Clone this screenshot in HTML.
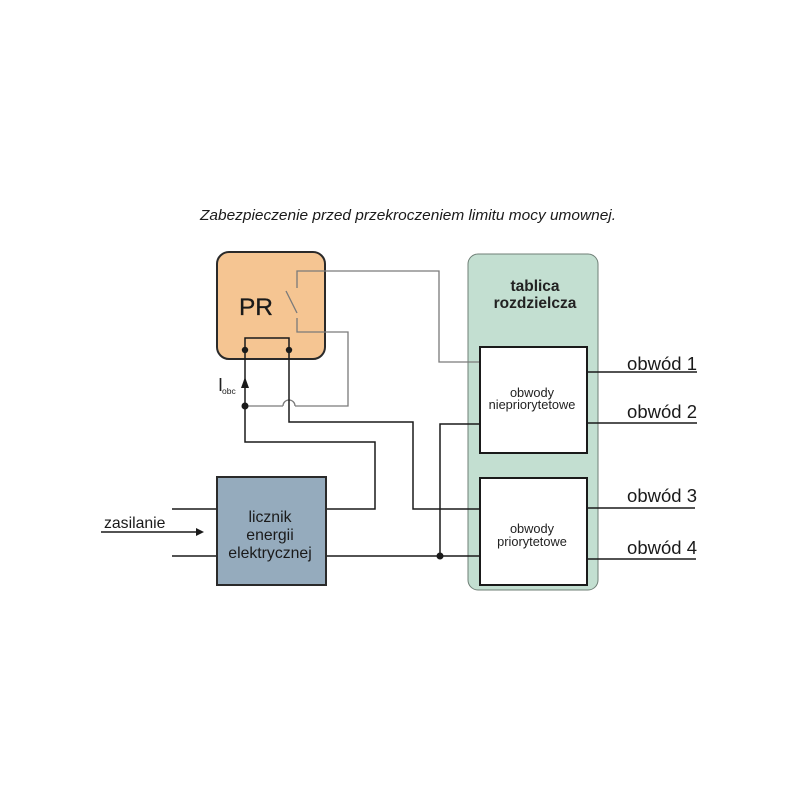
<!DOCTYPE html>
<html><head><meta charset="utf-8"><style>
html,body{margin:0;padding:0;background:#fff;}
svg{display:block;}
text{font-family:"Liberation Sans",Arial,sans-serif;}
</style></head><body>
<svg width="800" height="800" viewBox="0 0 800 800" xmlns="http://www.w3.org/2000/svg">
<rect width="800" height="800" fill="#fff"/>
<text x="408" y="220" font-size="14.5" font-style="italic" text-anchor="middle" fill="#1a1a1a" textLength="416" lengthAdjust="spacingAndGlyphs">Zabezpieczenie przed przekroczeniem limitu mocy umownej.</text>

<!-- tablica -->
<rect x="468" y="254" width="130" height="336" rx="10" ry="10" fill="#c3dfd1" stroke="#6f7f76" stroke-width="1"/>
<text x="535" y="291" font-size="15.5" font-weight="bold" text-anchor="middle" fill="#222">tablica</text>
<text x="535" y="308" font-size="15.5" font-weight="bold" text-anchor="middle" fill="#222">rozdzielcza</text>

<!-- PR box -->
<rect x="217" y="252" width="108" height="107" rx="12" ry="12" fill="#f5c592" stroke="#2a2a2a" stroke-width="2"/>
<text x="256" y="315" font-size="24.5" text-anchor="middle" fill="#1a1a1a" stroke="#1a1a1a" stroke-width="0.3">PR</text>

<!-- gray signal lines -->
<g fill="none" stroke="#7a7a7a" stroke-width="1.3">
<polyline points="297,288 297,271 439,271 439,362 480,362"/>
<line x1="286" y1="291" x2="297" y2="313"/>
<polyline points="297,318 297,332 348,332 348,406 295,406"/>
<path d="M283,406 A6,6 0 0 1 295,406"/>
<line x1="245" y1="406" x2="283" y2="406"/>
</g>

<!-- black lines -->
<g fill="none" stroke="#1a1a1a" stroke-width="1.5">
<polyline points="245,350 245,338 289,338 289,350"/>
<polyline points="245,350 245,442 375,442 375,509 326,509"/>
<polyline points="289,350 289,422 413,422 413,509 480,509"/>
<line x1="326" y1="556" x2="480" y2="556"/>
<polyline points="440,556 440,424 480,424"/>
<line x1="172" y1="509" x2="217" y2="509"/>
<line x1="172" y1="556" x2="217" y2="556"/>
<line x1="101" y1="532" x2="198" y2="532"/>
<line x1="587" y1="372" x2="697" y2="372"/>
<line x1="587" y1="423" x2="697" y2="423"/>
<line x1="587" y1="508" x2="695" y2="508"/>
<line x1="587" y1="559" x2="696" y2="559"/>
</g>
<polygon points="204,532 196,528 196,536" fill="#1a1a1a"/>
<polygon points="245,377 241,388 249,388" fill="#1a1a1a"/>

<g fill="#1a1a1a">
<circle cx="245" cy="350" r="3.2"/>
<circle cx="289" cy="350" r="3.2"/>
<circle cx="245" cy="406" r="3.5"/>
<circle cx="440" cy="556" r="3.5"/>
</g>

<text x="218" y="391" font-size="18" fill="#222">I</text>
<text x="222" y="394" font-size="8.5" fill="#222">obc</text>

<!-- meter -->
<rect x="217" y="477" width="109" height="108" fill="#95abbd" stroke="#2a2a2a" stroke-width="2"/>
<text x="270" y="522" font-size="15.8" text-anchor="middle" fill="#1a1a1a">licznik</text>
<text x="270" y="540" font-size="15.8" text-anchor="middle" fill="#1a1a1a">energii</text>
<text x="270" y="558" font-size="15.8" text-anchor="middle" fill="#1a1a1a">elektrycznej</text>
<text x="104" y="528" font-size="15.8" fill="#1a1a1a">zasilanie</text>

<!-- circuit boxes -->
<rect x="480" y="347" width="107" height="106" fill="#fff" stroke="#1a1a1a" stroke-width="2"/>
<text x="532" y="397" font-size="12.8" text-anchor="middle" fill="#222">obwody</text>
<text x="532" y="409" font-size="12.8" text-anchor="middle" fill="#222">niepriorytetowe</text>
<rect x="480" y="478" width="107" height="107" fill="#fff" stroke="#1a1a1a" stroke-width="2"/>
<text x="532" y="533" font-size="12.8" text-anchor="middle" fill="#222">obwody</text>
<text x="532" y="546" font-size="12.8" text-anchor="middle" fill="#222">priorytetowe</text>

<text x="697" y="370" font-size="18.5" text-anchor="end" fill="#1a1a1a">obwód 1</text>
<text x="697" y="418" font-size="18.5" text-anchor="end" fill="#1a1a1a">obwód 2</text>
<text x="697" y="502" font-size="18.5" text-anchor="end" fill="#1a1a1a">obwód 3</text>
<text x="697" y="554" font-size="18.5" text-anchor="end" fill="#1a1a1a">obwód 4</text>
</svg>
</body></html>
